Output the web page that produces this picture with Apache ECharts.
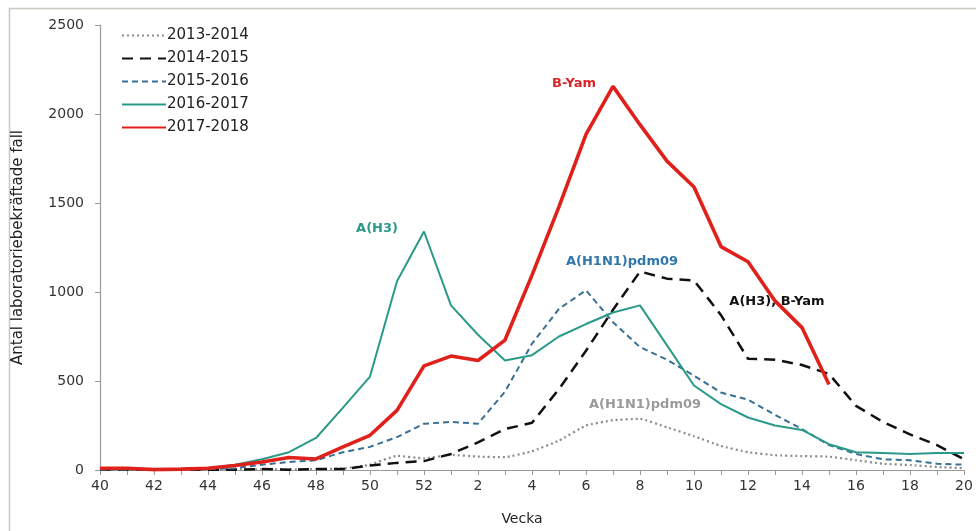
<!DOCTYPE html>
<html>
<head>
<meta charset="utf-8">
<script src="https://cdn.jsdelivr.net/npm/echarts@6/dist/echarts.min.js"></script>
<style>
html,body{margin:0;padding:0;background:#fff;}
#c{width:976px;height:531px;}
</style>
</head>
<body>
<div id="c"></div>
<script>
// Weeks 40..52 then 1..20
const weeks = ['40','41','42','43','44','45','46','47','48','49','50','51','52',
  '1','2','3','4','5','6','7','8','9','10','11','12','13','14','15','16','17','18','19','20'];
const yTicks = [0, 500, 1000, 1500, 2000, 2500];
const seriesNames = ['2013-2014','2014-2015','2015-2016','2016-2017','2017-2018'];

const s1314 = [5,5,3,3,3,3,3,3,5,8,30,80,65,85,75,72,105,165,250,280,288,240,190,135,100,83,78,75,55,35,28,17,10];
const s1415 = [3,3,2,2,2,2,5,2,5,5,25,40,50,90,155,230,265,455,670,900,1115,1075,1065,870,625,620,590,540,360,270,200,140,60];
const s1516 = [3,3,2,3,5,10,30,45,55,100,130,185,260,270,260,440,710,905,1010,830,690,620,530,435,395,310,230,140,90,60,55,35,30];
const s1617 = [8,8,3,5,8,30,60,100,180,350,525,1060,1340,925,760,615,645,750,820,885,925,700,475,370,295,250,225,145,100,95,90,95,95];
const s1718 = [10,10,2,5,10,25,45,70,62,130,195,335,585,640,615,730,1095,1480,1885,2155,1940,1735,1590,1255,1170,950,800,480,null,null,null,null,null];

const annotations = [
  {text:'A(H3)', x:377, y:229, color:'#2a9a88'},
  {text:'B-Yam', x:574, y:84, color:'#d9262b'},
  {text:'A(H1N1)pdm09', x:622, y:262, color:'#2f77ad'},
  {text:'A(H3), B-Yam', x:777, y:302, color:'#111111'},
  {text:'A(H1N1)pdm09', x:645, y:405, color:'#9a9a9a'}
];

const chart = echarts.init(document.getElementById('c'));
const FONT = 'DejaVu Sans';
const option = {
  backgroundColor:'#ffffff',
  animation:false,
  grid:{left:100, right:12, top:25, bottom:58, containLabel:false},
  legend:{
    orient:'vertical', left:116, top:23,
    itemWidth:44, itemHeight:14, itemGap:8,
    itemStyle:{opacity:0},
    textStyle:{fontFamily:FONT, fontSize:15, color:'#222', padding:[0,0,0,-4]},
    data:seriesNames
  },
  xAxis:{
    type:'category', data:weeks, boundaryGap:false,
    name:'Vecka', nameLocation:'middle', nameGap:42,
    nameTextStyle:{fontFamily:FONT, fontSize:14, color:'#222', padding:[0,20,0,0]},
    axisLine:{lineStyle:{color:'#9a9a9a', width:1.2}},
    axisTick:{show:true, interval:0, length:5, lineStyle:{color:'#9a9a9a'}},
    axisLabel:{interval:1, fontFamily:FONT, fontSize:14, color:'#333', margin:9},
    splitLine:{show:false}
  },
  yAxis:{
    type:'value', min:yTicks[0], max:yTicks[yTicks.length-1], interval:500,
    name:'Antal laboratoriebekräftade fall', nameLocation:'middle', nameGap:74,
    nameTextStyle:{fontFamily:FONT, fontSize:15, color:'#222'},
    axisLine:{show:true, lineStyle:{color:'#9a9a9a', width:1.2}},
    axisTick:{show:true, length:5, lineStyle:{color:'#9a9a9a'}},
    axisLabel:{fontFamily:FONT, fontSize:14, color:'#333', margin:16, formatter:v => String(v)},
    splitLine:{show:false}
  },
  series:[
    {name:seriesNames[0], type:'line', data:s1314, symbol:'none', smooth:0.1,
     lineStyle:{color:'#8c8c8c', width:2.2, type:[2,3]}, itemStyle:{color:'#8c8c8c'}, z:2},
    {name:seriesNames[1], type:'line', data:s1415, symbol:'none', smooth:false,
     lineStyle:{color:'#111111', width:2.5, type:[11,7]}, itemStyle:{color:'#111111'}, z:3},
    {name:seriesNames[2], type:'line', data:s1516, symbol:'none', smooth:false,
     lineStyle:{color:'#3a6f94', width:2, type:[6,4]}, itemStyle:{color:'#3a6f94'}, z:4},
    {name:seriesNames[3], type:'line', data:s1617, symbol:'none', smooth:false,
     lineStyle:{color:'#2a9a88', width:2}, itemStyle:{color:'#2a9a88'}, z:5},
    {name:seriesNames[4], type:'line', data:s1718, symbol:'none', smooth:false, connectNulls:false,
     lineStyle:{color:'#e0201b', width:3.6}, itemStyle:{color:'#e0201b'}, z:6}
  ],
  graphic:[
    {type:'rect', left:7, top:6, shape:{width:1000, height:600},
     style:{fill:'none', stroke:'#cbc6c0', lineWidth:1.5}, silent:true, z:-1}
  ].concat(annotations.map(a => ({
    type:'text', x:a.x, y:a.y,
    style:{text:a.text, fill:a.color, font:'bold 13px "DejaVu Sans"', align:'center', verticalAlign:'middle'},
    z:10
  })))
};
chart.setOption(option);
</script>
</body>
</html>
